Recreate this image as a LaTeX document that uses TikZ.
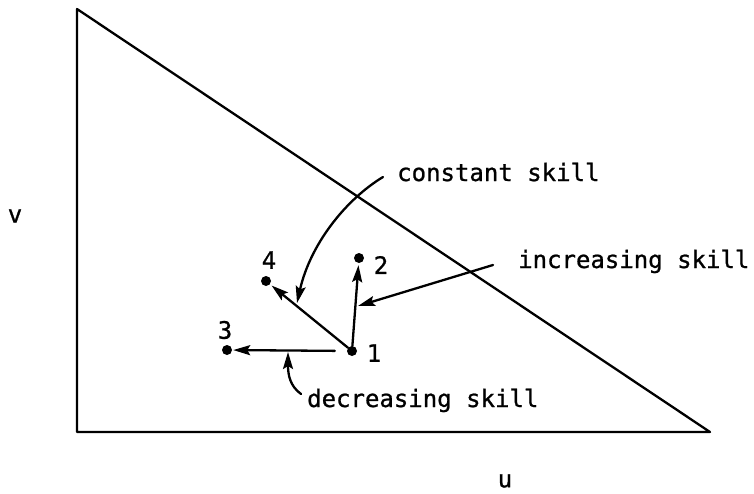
\documentclass[tikz,border=0pt]{standalone}
\usepackage{fontspec}
\newfontfamily\twfont[FakeBold=0.9]{DejaVu Sans Mono}
\usetikzlibrary{arrows.meta}
\tikzset{
  edge/.style={line width=2.3pt, line cap=round, line join=round},
  pt/.style={circle, fill=black, inner sep=0pt, minimum size=10pt},
  lbl/.style={font=\twfont\fontsize{24}{28}\selectfont, inner sep=0pt},
  arr/.style={edge, -{Stealth[length=17pt, width=10pt, inset=3pt]}},
}
\begin{document}
\begin{tikzpicture}[x=1pt,y=-1pt]
\useasboundingbox (0,0) rectangle (754,493);
% triangle
\coordinate (tl) at (77,9);
\coordinate (bl) at (77,432);
\coordinate (br) at (710,432);
\draw[edge] (tl) -- (bl) -- (br) -- cycle;
% axis labels
\node[lbl] (v) at (15,216) {v};
\node[lbl] (u) at (505,481) {u};
% points
\node[pt] (p1) at (352,351) {};
\node[pt] (p2) at (359,258) {};
\node[pt] (p3) at (227,350) {};
\node[pt] (p4) at (266,281) {};
\node[lbl] (n1) at (374,353) {1};
\node[lbl] (n2) at (381,265) {2};
\node[lbl] (n3) at (225,330) {3};
\node[lbl] (n4) at (269,260) {4};
% arrows from point 1
\draw[arr, shorten >=2pt] (p1) -- (p2);
\draw[arr, shorten >=2pt] (p1) -- (p4);
\draw[arr, shorten >=1pt, shorten <=12pt] (p1) -- (p3);
% labels
\node[lbl, anchor=base west] (cs) at (397,181) {constant skill};
\node[lbl, anchor=base west] (is) at (518,268) {increasing skill};
\node[lbl, anchor=base west] (ds) at (307,407) {decreasing skill};
% pointer arrows
\coordinate (cs0) at (383,177);
\coordinate (cs1) at (297,303);
\draw[arr] (cs0) .. controls (345,200) and (310,245) .. (cs1);
\coordinate (is0) at (493,265);
\coordinate (is1) at (358,306);
\draw[arr] (is0) -- (is1);
\coordinate (ds0) at (301,394);
\coordinate (ds1) at (288,352);
\draw[arr] (ds0) .. controls (290,386) and (288,375) .. (ds1);
\end{tikzpicture}
\end{document}
